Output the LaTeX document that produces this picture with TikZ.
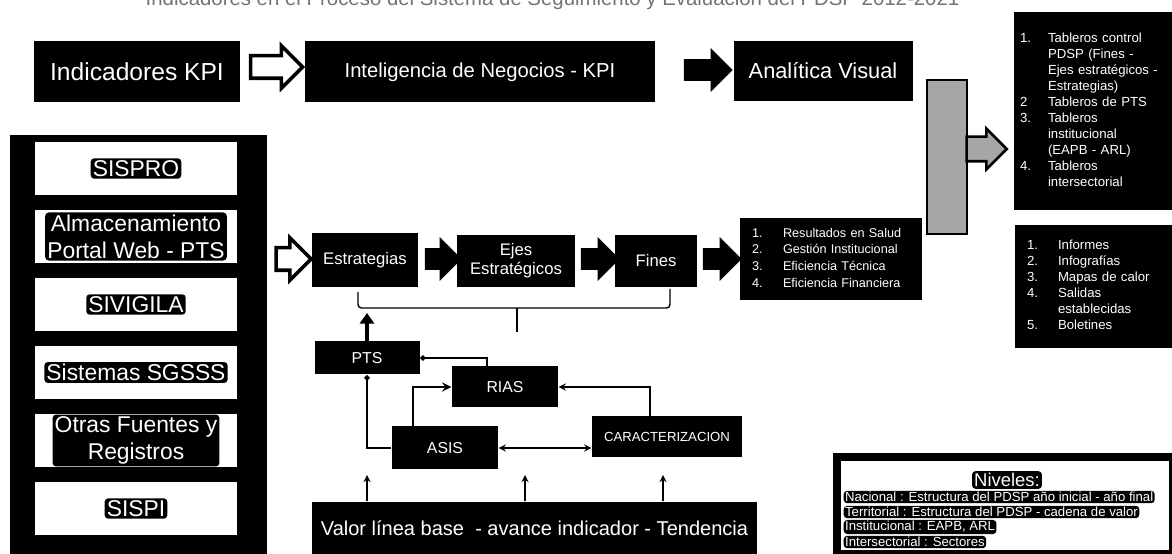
\documentclass[tikz,border=0pt]{standalone}
\usepackage{fontspec}
\setmainfont{Liberation Sans}
\usetikzlibrary{shapes.arrows, arrows.meta}

\begin{document}
\begin{tikzpicture}[x=0.2mm, y=-0.2mm, >=stealth, line width=0.8pt,
  box/.style={fill=black, text=white, inner sep=0pt, align=center},
  tag/.style={fill=black, text=white, rounded corners=2pt, inner sep=1.2pt, align=center},
  barrow/.style={single arrow, draw=black, fill=black, inner sep=0pt, single arrow head extend=2mm,
    minimum height=#1, execute at begin node=\rule{0pt}{3.8mm}},
  warrow/.style={barrow=#1, fill=white, line width=2pt}]
  \useasboundingbox (0,0) rectangle (1172,554);

  \begin{scope}
    \clip (0,0) rectangle (1172,554);
    \node[text=black!55, anchor=base west, inner sep=0pt, font=\fontsize{11.6}{12}\selectfont] (title) at (145,6) {Indicadores en el Proceso del Sistema de Seguimiento y Evaluación del PDSP 2012-2021};
  \end{scope}

  % fila superior
  \node[box, minimum width=41.2mm, minimum height=12.2mm, font=\fontsize{14}{14}\selectfont] (kpi) at (137,72) {Indicadores KPI};
  \node[warrow=10.4mm] (ar1) at (271,67) {};
  \node[box, minimum width=70mm, minimum height=12.2mm, font=\fontsize{11.5}{12}\selectfont] (intel) at (480,72) {Inteligencia de Negocios - KPI};
  \node[barrow=9.4mm] (ar2) at (703,70) {};
  \node[box, minimum width=35.8mm, minimum height=12mm, font=\fontsize{12.4}{13}\selectfont] (visual) at (823,71) {Analítica Visual};

  \node[draw=black, fill=black!35, line width=1.5pt, minimum width=8mm, minimum height=30.8mm, inner sep=0pt] (bar) at (947,157) {};
  \node[single arrow, draw=black, fill=black!35, line width=1.5pt, inner sep=0pt, single arrow head extend=1.6mm,
    minimum height=8mm, anchor=tail, execute at begin node=\rule{0pt}{4.4mm}] (ar7) at ([xshift=-0.6mm, yshift=1.6mm]bar.east) {};

  \node[box, inner xsep=1.2mm, text width=29.2mm, minimum height=39.6mm, align=left, font=\fontsize{7.5}{9.1}\selectfont] (tabl) at (1093,111)
    {\begin{tabular}{@{}p{5.6mm}@{}l@{}}
      1. & Tableros control\\ & PDSP (Fines -\\ & Ejes estratégicos -\\ & Estrategias)\\
      2 & Tableros de PTS\\
      3. & Tableros\\ & institucional\\ & (EAPB - ARL)\\
      4. & Tableros\\ & intersectorial
    \end{tabular}};
  \node[box, inner xsep=2.4mm, text width=26.6mm, minimum height=24.6mm, align=left, font=\fontsize{7.5}{9.1}\selectfont] (outs) at (1093.5,286.5)
    {\begin{tabular}{@{}p{6.2mm}@{}l@{}}
      1. & Informes\\ 2. & Infografías\\ 3. & Mapas de calor\\ 4. & Salidas\\ & establecidas\\ 5. & Boletines
    \end{tabular}};

  % fila central
  \node[warrow=7mm] (ar3) at (288,259) {};
  \node[box, minimum width=21.2mm, minimum height=10.8mm, font=\fontsize{9.5}{11}\selectfont] (strat) at (365,260) {Estrategias};
  \node[barrow=7mm] (ar4) at (438,259) {};
  \node[box, minimum width=23.6mm, minimum height=10.4mm, font=\fontsize{9.5}{11}\selectfont] (ejes) at (516,261) {Ejes\\Estratégicos};
  \node[barrow=7.4mm] (ar5) at (595,259) {};
  \node[box, minimum width=16.4mm, minimum height=10.4mm, font=\fontsize{9.5}{11}\selectfont] (fines) at (656,261) {Fines};
  \node[barrow=7.4mm] (ar6) at (717,259) {};
  \node[box, inner xsep=2.4mm, text width=31.6mm, minimum height=16.4mm, align=left, font=\fontsize{7.2}{9.5}\selectfont] (result) at (831,259)
    {\begin{tabular}{@{}p{6.2mm}@{}l@{}}
      1. & Resultados en Salud\\ 2. & Gestión Institucional\\ 3. & Eficiencia Técnica\\ 4. & Eficiencia Financiera
    \end{tabular}};

  \coordinate (brL) at (358,292);
  \coordinate (brR) at (670,289);
  \coordinate (brM) at (517,308);
  \coordinate (brT) at (517,332);
  \coordinate (up) at (367,313);
  \draw[rounded corners=2pt] (brL) |- (brM) -| (brR);
  \draw (brM) -- (brT);

  % fuentes de linea base
  \node[box, minimum width=21mm, minimum height=6.6mm, font=\fontsize{9}{10}\selectfont] (pts) at (367,358) {PTS};
  \node[box, minimum width=21.2mm, minimum height=8.2mm, font=\fontsize{9}{10}\selectfont] (rias) at (505,387) {RIAS};
  \node[box, minimum width=21.2mm, minimum height=8.6mm, font=\fontsize{9}{10}\selectfont] (asis) at (445,448) {ASIS};
  \node[box, minimum width=30mm, minimum height=8.2mm, font=\fontsize{7.5}{8}\selectfont] (caract) at (667,437) {CARACTERIZACION};
  \node[box, minimum width=89mm, minimum height=10.4mm, font=\fontsize{11.4}{12}\selectfont] (valor) at (534.5,528) {Valor línea base\ \ - avance indicador - Tendencia};

  \draw[line width=2.6pt, -{Triangle[width=8pt, length=6pt]}] (pts.north) -- (up);
  \draw[{Circle[length=3pt]}-] (pts.east) -| ([xshift=-3.6mm]rias.north);
  \draw[-{Circle[length=3pt]}] (asis.west) -| (pts.south);
  \draw[->, line width=1.3pt] ([xshift=-6.4mm]asis.north) |- (rias.west);
  \draw[->] ([xshift=-3.4mm]caract.north) |- (rias.east);
  \draw[<->] (asis.east) -- (asis.east -| caract.west);

  \coordinate (v1) at (367,475);
  \coordinate (v2) at (525,475);
  \coordinate (v3) at (663,475);
  \draw[->] (v1 |- valor.north) -- (v1);
  \draw[->] (v2 |- valor.north) -- (v2);
  \draw[->] (v3 |- valor.north) -- (v3);

  % panel de fuentes
  \node[fill=black, minimum width=51.4mm, minimum height=83.8mm, inner sep=0pt] (srcs) at (138.5,344.5) {};
  \node[fill=white, minimum width=40.4mm, minimum height=10.6mm] (src1) at (136,168.5) {};
  \node[fill=white, minimum width=40.4mm, minimum height=10.6mm] (src2) at (136,236.5) {};
  \node[fill=white, minimum width=40.4mm, minimum height=10.6mm] (src3) at (136,304.5) {};
  \node[fill=white, minimum width=40.4mm, minimum height=10.6mm] (src4) at (136,372.5) {};
  \node[fill=white, minimum width=40.4mm, minimum height=10.6mm] (src5) at (136,440.5) {};
  \node[fill=white, minimum width=40.4mm, minimum height=10.6mm] (src6) at (136,508.5) {};
  \node[tag, font=\fontsize{13}{15.4}\selectfont] (tag1) at (src1) {SISPRO};
  \node[tag, font=\fontsize{13}{15.4}\selectfont] (tag2) at (src2) {Almacenamiento\\Portal Web - PTS};
  \node[tag, font=\fontsize{13}{15.4}\selectfont] (tag3) at (src3) {SIVIGILA};
  \node[tag, font=\fontsize{13}{15.4}\selectfont] (tag4) at (src4) {Sistemas SGSSS};
  \node[tag, font=\fontsize{13}{15.4}\selectfont] (tag5) at (src5) {Otras Fuentes y\\Registros};
  \node[tag, font=\fontsize{13}{15.4}\selectfont] (tag6) at (src6) {SISPI};

  % niveles
  \node[fill=white, draw=black, line width=4pt, minimum width=67mm, minimum height=19.4mm] (niv) at (1004.5,505.5) {};
  \node[tag, font=\fontsize{10.5}{11}\selectfont] (nivt) at (1007,480) {Niveles:};
  \node[tag, anchor=west, inner sep=0.8pt, font=\fontsize{7.5}{8}\selectfont] (niv1) at (843,497) {Nacional : Estructura del PDSP año inicial - año final};
  \node[tag, anchor=west, inner sep=0.8pt, font=\fontsize{7.5}{8}\selectfont] (niv2) at (843,512) {Territorial : Estructura del PDSP - cadena de valor};
  \node[tag, anchor=west, inner sep=0.8pt, font=\fontsize{7.5}{8}\selectfont] (niv3) at (843,527) {Institucional : EAPB, ARL};
  \node[tag, anchor=west, inner sep=0.8pt, font=\fontsize{7.5}{8}\selectfont] (niv4) at (843,542) {Intersectorial : Sectores};
\end{tikzpicture}
\end{document}
